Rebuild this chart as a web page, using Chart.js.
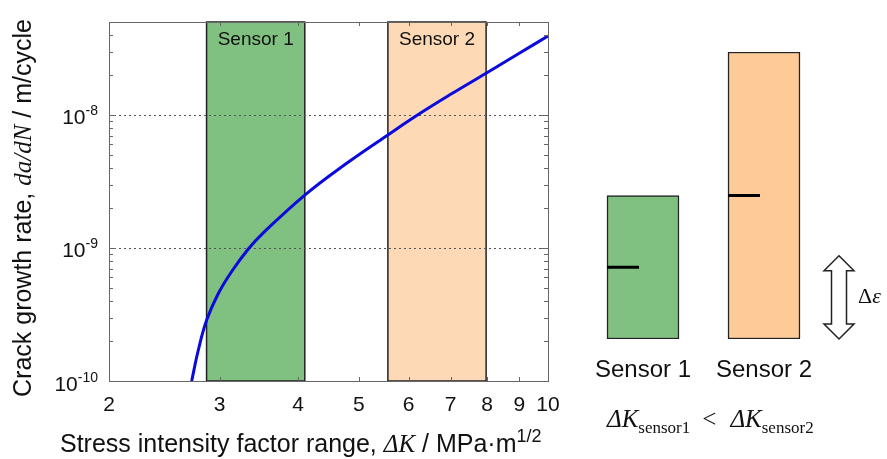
<!DOCTYPE html>
<html>
<head>
<meta charset="utf-8">
<script src="https://cdn.jsdelivr.net/npm/chart.js@4/dist/chart.umd.min.js"></script>
<style>
  html, body { margin: 0; padding: 0; background: #fff; }
  #wrap { position: relative; width: 887px; height: 459px; overflow: hidden; }
  #crackChart { position: absolute; left: 0; top: 0; }
  #sensorChart { position: absolute; left: 575px; top: 0; }
</style>
</head>
<body>
<div id="wrap">
  <canvas id="crackChart" width="575" height="459"></canvas>
  <canvas id="sensorChart" width="312" height="459"></canvas>
</div>
<script>
// Paris-type crack growth curve, dK (MPa·m^1/2) vs da/dN (m/cycle)
const stressRange = [2.708, 2.775, 2.861, 2.986, 3.136, 3.333, 3.521, 4.10, 4.75, 5.56, 6.18, 7.0, 7.97, 9.0, 10];
const growthRate = [1.0e-10, 1.71e-10, 2.87e-10, 4.55e-10, 6.66e-10, 9.83e-10, 1.30e-9, 2.5e-9, 4.24e-9, 7.08e-9, 9.91e-9, 1.43e-8, 2.06e-8, 2.91e-8, 3.93e-8];

// dK window covered by each sensor
const sensorNames = ['Sensor 1', 'Sensor 2'];
const sensorLow = [2.86, 5.56];
const sensorHigh = [4.10, 7.97];

// axis ticks
const kTicks = [2, 3, 4, 5, 6, 7, 8, 9, 10];
const rateMajor = [1e-10, 1e-9, 1e-8];
const rateExp = ['-10', '-9', '-8'];

// right hand sketch: relative strain on each sensor
const strainLevel = [0.5, 1.0];
const crackLevel = [0.25, 0.5];
const strainStep = 0.29;

const SANS = '"Liberation Sans", Arial, sans-serif';
const SERIF = '"Liberation Serif", "Times New Roman", serif';
const green = '#80C080';
const orangeLight = '#FDDAB5';
const orange = '#FECB98';

// draws a run of text pieces left to right; dy shifts a piece, gap adds space
function drawRich(ctx, parts, x, y) {
    let cx = x;
    parts.forEach(p => {
        if (p.gap) { cx += p.gap; return; }
        ctx.font = p.font;
        ctx.fillText(p.t, cx, y + (p.dy || 0));
        cx += ctx.measureText(p.t).width;
    });
}

const crackDecor = {
    id: 'crackDecor',
    beforeDatasetsDraw(chart) {
        const { ctx, chartArea: a, scales: { x, y } } = chart;
        ctx.save();
        // sensor bands
        sensorNames.forEach((name, i) => {
            const x0 = x.getPixelForValue(sensorLow[i]);
            const x1 = x.getPixelForValue(sensorHigh[i]);
            ctx.fillStyle = i === 0 ? green : orangeLight;
            ctx.fillRect(x0, a.top, x1 - x0, a.bottom - a.top);
            ctx.strokeStyle = '#222';
            ctx.lineWidth = 1.5;
            ctx.strokeRect(x0, a.top, x1 - x0, a.bottom - a.top);
            ctx.fillStyle = '#111';
            ctx.font = '19px ' + SANS;
            ctx.textAlign = 'center';
            ctx.textBaseline = 'middle';
            ctx.fillText(name, (x0 + x1) / 2, a.top + 18);
        });
        // dotted grid at the inner decades
        ctx.strokeStyle = '#555';
        ctx.lineWidth = 1;
        ctx.setLineDash([2, 3]);
        rateMajor.slice(1).forEach(v => {
            const py = Math.round(y.getPixelForValue(v)) + 0.5;
            ctx.beginPath();
            ctx.moveTo(a.left, py);
            ctx.lineTo(a.right, py);
            ctx.stroke();
        });
        ctx.restore();
    },
    afterDatasetsDraw(chart) {
        const { ctx, chartArea: a, scales: { x, y } } = chart;
        ctx.save();
        ctx.strokeStyle = '#666';
        ctx.lineWidth = 1;
        // inward ticks on all four sides
        ctx.beginPath();
        kTicks.slice(1, -1).forEach(v => {
            const px = Math.round(x.getPixelForValue(v)) + 0.5;
            ctx.moveTo(px, a.bottom); ctx.lineTo(px, a.bottom - 4);
            ctx.moveTo(px, a.top); ctx.lineTo(px, a.top + 4);
        });
        for (let e = -10; e <= -8; e++) {
            for (let m = 1; m <= 9; m++) {
                const v = m * Math.pow(10, e);
                if (v <= 1e-10 || v >= 5e-8) continue;
                const len = m === 1 ? 7 : 4;
                const py = Math.round(y.getPixelForValue(v)) + 0.5;
                ctx.moveTo(a.left, py); ctx.lineTo(a.left + len, py);
                ctx.moveTo(a.right, py); ctx.lineTo(a.right - len, py);
            }
        }
        ctx.stroke();
        ctx.strokeRect(Math.round(a.left) + 0.5, Math.round(a.top) + 0.5,
            Math.round(a.right - a.left), Math.round(a.bottom - a.top));
        ctx.restore();
    },
    afterDraw(chart) {
        const { ctx, chartArea: a, scales: { y } } = chart;
        ctx.save();
        ctx.fillStyle = '#111';
        ctx.textBaseline = 'alphabetic';
        // 10^n labels on the rate axis
        rateMajor.forEach((v, i) => {
            const py = y.getPixelForValue(v);
            ctx.font = '21px ' + SANS;
            const wBase = ctx.measureText('10').width;
            ctx.font = '14px ' + SANS;
            const wExp = ctx.measureText(rateExp[i]).width;
            const x0 = a.left - 11 - wExp - wBase;
            drawRich(ctx, [
                { t: '10', font: '21px ' + SANS },
                { t: rateExp[i], font: '14px ' + SANS, dy: -9 }
            ], x0, py + 9.5);
        });
        // x title
        drawRich(ctx, [
            { t: 'Stress intensity factor range, ', font: '25px ' + SANS },
            { t: '\u0394K', font: 'italic 25px ' + SERIF },
            { t: ' / MPa\u00b7m', font: '25px ' + SANS },
            { t: '1/2', font: '18px ' + SANS, dy: -10 }
        ], 60, 452);
        // y title, reading upwards
        ctx.translate(31, 397);
        ctx.rotate(-Math.PI / 2);
        drawRich(ctx, [
            { t: 'Crack growth rate, ', font: '25px ' + SANS },
            { t: 'da/dN', font: 'italic 25px ' + SERIF },
            { t: ' / m/cycle', font: '25px ' + SANS }
        ], 0, 0);
        ctx.restore();
    }
};

new Chart(document.getElementById('crackChart').getContext('2d'), {
    type: 'line',
    data: {
        datasets: [{
            data: stressRange.map((k, i) => ({ x: k, y: growthRate[i] })),
            borderColor: '#0A0ADC',
            borderWidth: 3,
            pointRadius: 0,
            tension: 0.4,
            fill: false,
        }]
    },
    options: {
        responsive: false,
        animation: false,
        events: [],
        layout: { padding: { top: 22, right: 27, left: 0, bottom: 0 } },
        scales: {
            x: {
                type: 'logarithmic',
                min: 2,
                max: 10,
                afterBuildTicks: s => { s.ticks = kTicks.map(v => ({ value: v })); },
                afterFit: s => { s.height = 78; },
                grid: { display: false, drawTicks: false },
                border: { display: false },
                ticks: {
                    color: '#111',
                    font: { family: SANS, size: 21 },
                    padding: 12,
                    maxRotation: 0,
                    autoSkip: false,
                    callback: v => String(v),
                }
            },
            y: {
                type: 'logarithmic',
                min: 1e-10,
                max: 5e-8,
                afterFit: s => { s.width = 109; },
                grid: { display: false, drawTicks: false },
                border: { display: false },
                ticks: { display: false }
            }
        },
        plugins: { legend: { display: false }, tooltip: { enabled: false } }
    },
    plugins: [crackDecor]
});

const sensorDecor = {
    id: 'sensorDecor',
    afterDatasetsDraw(chart) {
        const { ctx, chartArea: a, scales: { y } } = chart;
        const bars = chart.getDatasetMeta(0).data;
        ctx.save();
        // crack marks inside each sensor
        ctx.strokeStyle = '#000';
        ctx.lineWidth = 3;
        bars.forEach((bar, i) => {
            const left = bar.x - bar.width / 2;
            const py = y.getPixelForValue(crackLevel[i]);
            ctx.beginPath();
            ctx.moveTo(left, py);
            ctx.lineTo(left + 32, py);
            ctx.stroke();
        });
        // hollow double arrow for the strain step
        const cx = a.right + 14.5;
        const yTop = y.getPixelForValue(strainStep);
        const yBot = y.getPixelForValue(0);
        const hw = 15, sw = 7.5, hh = 15;
        ctx.beginPath();
        ctx.moveTo(cx, yTop);
        ctx.lineTo(cx + hw, yTop + hh);
        ctx.lineTo(cx + sw, yTop + hh);
        ctx.lineTo(cx + sw, yBot - hh);
        ctx.lineTo(cx + hw, yBot - hh);
        ctx.lineTo(cx, yBot);
        ctx.lineTo(cx - hw, yBot - hh);
        ctx.lineTo(cx - sw, yBot - hh);
        ctx.lineTo(cx - sw, yTop + hh);
        ctx.lineTo(cx - hw, yTop + hh);
        ctx.closePath();
        ctx.fillStyle = '#fff';
        ctx.fill();
        ctx.strokeStyle = '#222';
        ctx.lineWidth = 1.5;
        ctx.lineJoin = 'miter';
        ctx.stroke();
        ctx.fillStyle = '#111';
        ctx.textBaseline = 'middle';
        drawRich(ctx, [
            { t: '\u0394', font: '22px ' + SERIF },
            { t: '\u03b5', font: 'italic 22px ' + SERIF }
        ], cx + 19, (yTop + yBot) / 2);
        // dK comparison below the sketch
        ctx.textBaseline = 'alphabetic';
        drawRich(ctx, [
            { t: '\u0394K', font: 'italic 25px ' + SERIF },
            { t: 'sensor1', font: '17px ' + SERIF, dy: 6 },
            { gap: 12 },
            { t: '<', font: '25px ' + SERIF },
            { gap: 14 },
            { t: '\u0394K', font: 'italic 25px ' + SERIF },
            { t: 'sensor2', font: '17px ' + SERIF, dy: 6 }
        ], 32, 427);
        ctx.restore();
    }
};

new Chart(document.getElementById('sensorChart').getContext('2d'), {
    type: 'bar',
    data: {
        labels: sensorNames,
        datasets: [{
            data: strainLevel,
            backgroundColor: [green, orange],
            borderColor: '#222',
            borderWidth: 1.5,
            borderSkipped: false,
            barThickness: 72,
        }]
    },
    options: {
        responsive: false,
        animation: false,
        events: [],
        layout: { padding: { top: 52, right: 62.5, left: 7.5, bottom: 0 } },
        scales: {
            x: {
                afterFit: s => { s.height = 120; },
                grid: { display: false, drawTicks: false },
                border: { display: false },
                ticks: {
                    color: '#111',
                    font: { family: SANS, size: 24 },
                    padding: 17,
                    maxRotation: 0,
                }
            },
            y: { display: false, min: 0, max: 1 }
        },
        plugins: { legend: { display: false }, tooltip: { enabled: false } }
    },
    plugins: [sensorDecor]
});
</script>
</body>
</html>
